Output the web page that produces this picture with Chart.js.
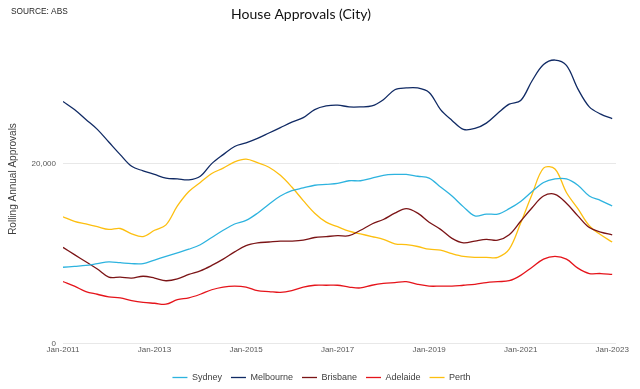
<!DOCTYPE html>
<html>
<head>
<meta charset="utf-8">
<script src="https://cdn.jsdelivr.net/npm/chart.js@4/dist/chart.umd.min.js"></script>
<style>
  html, body { margin: 0; padding: 0; background: #ffffff; }
  #wrap { width: 640px; height: 389px; }
</style>
</head>
<body>
<div id="wrap"><canvas id="c" width="640" height="389"></canvas></div>
<script>
// Quarterly samples, Jan-2011 .. Jan-2023 (49 points)
const quarterLabels = [];
for (let y = 2011; y <= 2023; y++) {
  for (const m of ['Jan', 'Apr', 'Jul', 'Oct']) {
    if (y === 2023 && m !== 'Jan') break;
    quarterLabels.push(m + '-' + y);
  }
}
const xTickLabels = ['Jan-2011', 'Jan-2013', 'Jan-2015', 'Jan-2017', 'Jan-2019', 'Jan-2021', 'Jan-2023'];
const yTickValues = [0, 20000];

const sydney = [8500, 8600, 8700, 8900, 9100, 9000, 8900, 8900, 9300, 9700, 10100, 10500,
  11000, 11800, 12600, 13300, 13700, 14500, 15500, 16400, 17000, 17300, 17600, 17700,
  17800, 18100, 18100, 18400, 18700, 18800, 18800, 18600, 18400, 17400, 16400, 15200,
  14200, 14400, 14400, 15000, 15800, 16900, 17900, 18300, 18300, 17600, 16400, 15900, 15300];

const melbourne = [26900, 26000, 24900, 23800, 22400, 21000, 19700, 19200, 18800, 18400, 18300, 18200,
  18600, 20000, 21000, 21900, 22300, 22800, 23400, 24000, 24600, 25100, 26000, 26400,
  26500, 26300, 26300, 26400, 27100, 28200, 28400, 28400, 27900, 26000, 24800, 23800,
  23900, 24500, 25600, 26600, 27000, 29200, 31000, 31500, 30900, 28300, 26300, 25500, 25000];

const brisbane = [10700, 9900, 9100, 8300, 7400, 7400, 7300, 7500, 7300, 7000, 7200, 7700,
  8100, 8700, 9400, 10200, 10900, 11200, 11300, 11400, 11400, 11500, 11800, 11900,
  12000, 12000, 12600, 13300, 13800, 14500, 15000, 14500, 13500, 12700, 11700, 11200,
  11400, 11600, 11500, 12100, 13600, 15100, 16400, 16600, 15600, 14200, 12900, 12400, 12100];

const adelaide = [6900, 6400, 5800, 5500, 5200, 5100, 4800, 4600, 4500, 4400, 4900, 5100,
  5500, 6000, 6300, 6400, 6300, 5900, 5800, 5700, 5900, 6300, 6500, 6500,
  6500, 6300, 6200, 6500, 6700, 6800, 6900, 6600, 6400, 6400, 6400, 6500,
  6600, 6800, 6900, 7000, 7600, 8500, 9400, 9700, 9400, 8400, 7800, 7800, 7700];

const perth = [14100, 13600, 13300, 13000, 12700, 12800, 12200, 11900, 12600, 13200, 15300, 16900,
  17900, 18900, 19500, 20200, 20500, 20100, 19600, 18700, 17400, 15900, 14500, 13500,
  13000, 12500, 12200, 11900, 11600, 11100, 11000, 10800, 10500, 10400, 10000, 9700,
  9600, 9600, 9600, 10500, 13400, 16600, 19500, 19400, 16800, 15000, 13100, 12100, 11300];

const seriesNames = ['Sydney', 'Melbourne', 'Brisbane', 'Adelaide', 'Perth'];
const seriesValues = [sydney, melbourne, brisbane, adelaide, perth];
const seriesColors = ['#2db3df', '#102a64', '#7b1416', '#e5141b', '#fdbf10'];

const toPoints = vals => vals.map((v, i) => ({ x: i * 3, y: v }));

const textPlugin = {
  id: 'headerText',
  afterDraw(chart) {
    const ctx = chart.ctx;
    ctx.save();
    ctx.textBaseline = 'middle';
    ctx.textAlign = 'left';
    ctx.font = '8.3px "Liberation Sans", Arial, sans-serif';
    ctx.fillStyle = '#262626';
    ctx.fillText('SOURCE: ABS', 11, 12);
    ctx.textAlign = 'center';
    ctx.font = '14px Lato, "Open Sans", sans-serif';
    ctx.fillStyle = '#111111';
    ctx.fillText('House Approvals (City)', 301, 14);
    ctx.translate(13, 179);
    ctx.rotate(-Math.PI / 2);
    ctx.font = '10px "Liberation Sans", Arial, sans-serif';
    ctx.fillStyle = '#404040';
    ctx.fillText('Rolling Annual Approvals', 0, 0);
    ctx.restore();
  }
};

new Chart(document.getElementById('c'), {
  type: 'line',
  data: {
    datasets: seriesNames.map((n, i) => ({
      label: n,
      data: toPoints(seriesValues[i]),
      borderColor: seriesColors[i],
      backgroundColor: seriesColors[i],
      borderWidth: 1.3,
      pointRadius: 0,
      tension: 0.35,
      fill: false
    }))
  },
  options: {
    responsive: false,
    animation: false,
    devicePixelRatio: 1,
    layout: { padding: { left: 27, right: 24, top: 28.5, bottom: -3 } },
    plugins: {
      title: { display: false },
      legend: {
        display: true,
        position: 'bottom',
        labels: {
          usePointStyle: true,
          pointStyle: 'line',
          pointStyleWidth: 15,
          boxHeight: 8,
          padding: 9,
          color: '#404040',
          font: { family: '"Liberation Sans", Arial, sans-serif', size: 9 }
        }
      },
      tooltip: { enabled: false }
    },
    scales: {
      x: {
        type: 'linear',
        min: 0,
        max: 145,
        grid: { display: false, drawTicks: false, tickLength: 0 },
        border: { display: false },
        afterBuildTicks: s => { s.ticks = xTickLabels.map((_, i) => ({ value: i * 24 })); },
        afterFit: s => { s.height = 20.2; },
        ticks: {
          autoSkip: false,
          maxRotation: 0,
          padding: 1,
          color: '#595959',
          font: { family: '"Liberation Sans", Arial, sans-serif', size: 8 },
          callback: v => xTickLabels[v / 24]
        }
      },
      y: {
        min: 0,
        max: 35000,
        grid: { color: '#e8e8e8', lineWidth: 1, drawTicks: false },
        border: { display: false },
        afterBuildTicks: s => { s.ticks = yTickValues.map(v => ({ value: v })); },
        afterFit: s => { s.width = 36; },
        ticks: {
          padding: 7,
          color: '#595959',
          font: { family: '"Liberation Sans", Arial, sans-serif', size: 8 },
          callback: v => v.toLocaleString('en-US')
        },
        title: { display: false }
      }
    }
  },
  plugins: [textPlugin]
});
</script>
</body>
</html>
